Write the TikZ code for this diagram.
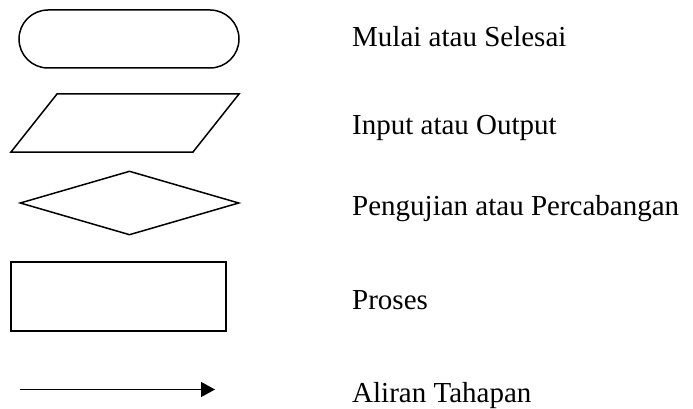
\documentclass[tikz,border=0pt]{standalone}
\usepackage{fontspec}
\setmainfont{Liberation Serif}
\usetikzlibrary{%
  arrows.meta,%
  shapes.geometric,% diamond
  shapes.misc,% rounded rectangle
  positioning%
}

\begin{document}
\begin{tikzpicture}[x=1pt,y=-1pt]
       \tikzset{symbol/.style={draw, line width=1.5pt, inner sep=0pt}}
       \tikzset{terminal/.style={symbol, rounded rectangle, minimum width=220pt, minimum height=58pt}}
       \tikzset{decision/.style={symbol, diamond, minimum width=219pt, minimum height=64pt}}
       \tikzset{process/.style={symbol, rectangle, minimum width=215pt, minimum height=69pt}}
       \tikzset{flow/.style={line width=1.4pt, -{Triangle[length=14pt,width=15pt]}}}
       \tikzset{caption/.style={anchor=base west, inner sep=0pt, font=\fontsize{29pt}{34pt}\selectfont}}

        \useasboundingbox (0,0) rectangle (693,409);

        \node[terminal] (mulai) at (129,39) {};
        % input/output box as a slanted parallelogram
        \draw[line width=1.5pt, line join=miter] (57,94) -- (239,94) -- (193,152) -- (11,152) -- cycle;
        \node[decision] (uji) at (129.5,203) {};
        \node[process] (proses) at (118.5,296.5) {};
        \coordinate (aliranA) at (20,389.5);
        \coordinate (aliranB) at (215,389.5);
        \draw[flow] (aliranA) -- (aliranB);

        \node[caption] (tMulai) at (352,47) {Mulai atau Selesai};
        \node[caption] (tIO) at (352,135) {Input atau Output};
        \node[caption] (tUji) at (352,215) {Pengujian atau Percabangan};
        \node[caption] (tProses) at (352,309) {Proses};
        \node[caption] (tAliran) at (352,402) {Aliran Tahapan};

\end{tikzpicture}
\end{document}
